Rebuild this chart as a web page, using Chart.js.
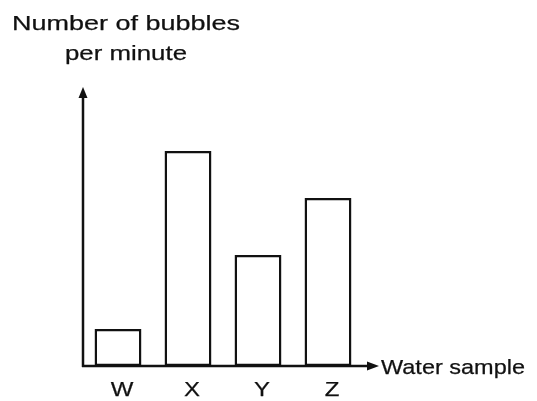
<!DOCTYPE html>
<html><head><meta charset="utf-8">
<script src="https://cdn.jsdelivr.net/npm/chart.js@4"></script>
<style>html,body{margin:0;padding:0;background:#fff}#wrap{width:537px;height:401px}</style>
</head><body><div id="wrap"><canvas id="c" width="537" height="401"></canvas></div>
<script>
const categories = ['W', 'X', 'Y', 'Z'];
const bubbles = [37, 215, 111, 168];
const yTitleLines = ['Number of bubbles', 'per minute'];
const xTitle = 'Water sample';
const yMax = 278;

function stretchText(ctx, text, left, baseline, width) {
  const w = ctx.measureText(text).width;
  const sx = width / w;
  ctx.save();
  ctx.translate(left, baseline);
  ctx.scale(sx, 1);
  ctx.textAlign = 'left';
  ctx.textBaseline = 'alphabetic';
  ctx.lineWidth = 0.25;
  ctx.lineJoin = 'round';
  ctx.strokeStyle = '#111';
  ctx.fillText(text, 0, 0);
  ctx.strokeText(text, 0, 0);
  ctx.restore();
}

const decor = {
  id: 'decor',
  afterDraw(chart) {
    const ctx = chart.ctx;
    const a = chart.chartArea;
    const xs = chart.scales.x;
    ctx.save();
    ctx.strokeStyle = '#111';
    ctx.fillStyle = '#111';
    ctx.lineWidth = 2.5;
    // y axis
    ctx.beginPath();
    ctx.moveTo(a.left, a.bottom + 1);
    ctx.lineTo(a.left, a.top + 8);
    ctx.stroke();
    ctx.beginPath();
    ctx.moveTo(a.left, a.top - 1);
    ctx.lineTo(a.left - 4.5, a.top + 10);
    ctx.lineTo(a.left + 4.5, a.top + 10);
    ctx.closePath();
    ctx.fill();
    // x axis
    ctx.beginPath();
    ctx.moveTo(a.left - 1, a.bottom);
    ctx.lineTo(a.right + 6, a.bottom);
    ctx.stroke();
    ctx.beginPath();
    ctx.moveTo(a.right + 16, a.bottom);
    ctx.lineTo(a.right + 4, a.bottom - 4.5);
    ctx.lineTo(a.right + 4, a.bottom + 4.5);
    ctx.closePath();
    ctx.fill();
    // texts
    ctx.font = '21px "Liberation Sans", Arial, sans-serif';
    stretchText(ctx, yTitleLines[0], 12, 30, 228);
    stretchText(ctx, yTitleLines[1], 65, 60, 122);
    stretchText(ctx, xTitle, 381, 374, 144);
    ctx.font = '20px "Liberation Sans", Arial, sans-serif';
    categories.forEach((c, i) => {
      const cx = xs.getPixelForValue(i) + 4;
      const w = ctx.measureText(c).width * 1.2;
      stretchText(ctx, c, cx - w / 2, 396, w);
    });
    ctx.restore();
  }
};

new Chart(document.getElementById('c'), {
  type: 'bar',
  data: {
    labels: categories,
    datasets: [{
      data: bubbles,
      backgroundColor: '#ffffff',
      borderColor: '#111',
      borderWidth: 2.5,
      borderSkipped: false,
      categoryPercentage: 1,
      barPercentage: 0.67
    }]
  },
  options: {
    responsive: false,
    animation: false,
    devicePixelRatio: 1,
    layout: { padding: { left: 83, top: 88, right: 174, bottom: 35 } },
    plugins: { legend: { display: false }, tooltip: { enabled: false } },
    scales: {
      x: { display: false },
      y: { display: false, min: 0, max: yMax }
    }
  },
  plugins: [decor]
});
</script>
</body></html>
